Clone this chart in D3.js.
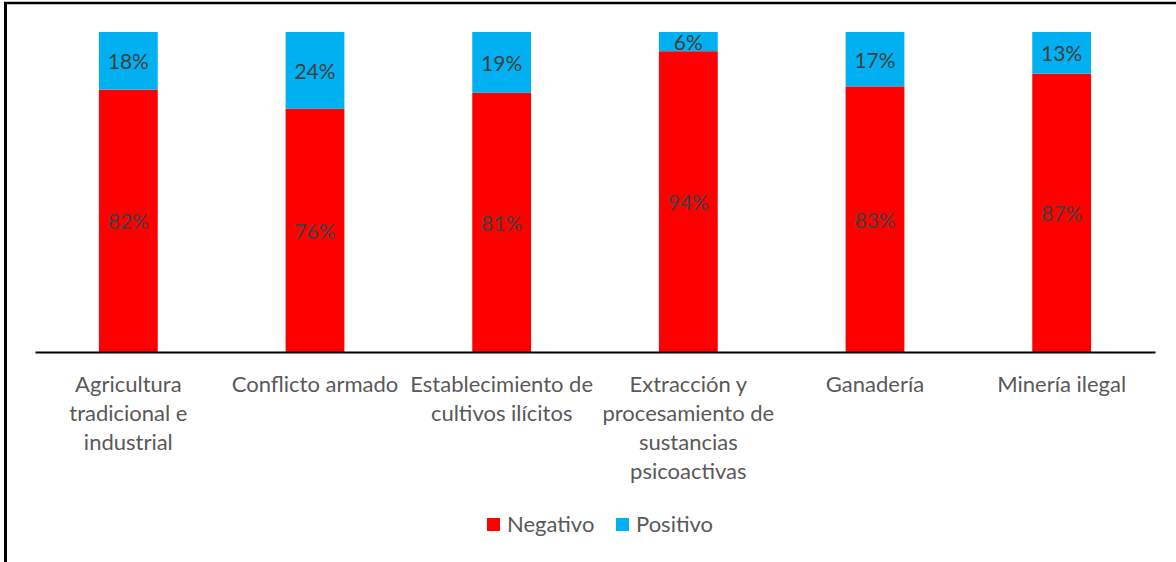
<!DOCTYPE html>
<html>
<head>
<meta charset="utf-8">
<script src="https://cdn.jsdelivr.net/npm/d3@7"></script>
<style>
    body { margin: 0; background: #fff; }
    text { font-family: Lato, "Open Sans", sans-serif; }
</style>
</head>
<body>
<script>
"use strict";

// Data
const categories = [
    "Agricultura\ntradicional e\nindustrial",
    "Conflicto armado",
    "Establecimiento de\ncultivos ilícitos",
    "Extracción y\nprocesamiento de\nsustancias\npsicoactivas",
    "Ganadería",
    "Minería ilegal"
]
const negativo = [82, 76, 81, 94, 83, 87]
const positivo = [18, 24, 19, 6, 17, 13]
const seriesNames = ["Negativo", "Positivo"]

const colors = { "Negativo": "#FF0000", "Positivo": "#00B0F0" }

// Dimensions
const measurements = {
    width: 1176,
    height: 562,
    left: 35,
    right: 1155,
    top: 32,
    bottom: 352,
    fontSize: "22px",
    valueSize: "21px"
}

const svgContainer = d3.select("body").append("svg")
    .attr("width", measurements.width)
    .attr("height", measurements.height)

// Outer frame (top and left edges visible)
svgContainer.append("line")
    .attr("x1", 4).attr("x2", measurements.width)
    .attr("y1", 3).attr("y2", 3)
    .attr("stroke", "#000").attr("stroke-width", 2.5)
svgContainer.append("line")
    .attr("x1", 5.5).attr("x2", 5.5)
    .attr("y1", 2).attr("y2", measurements.height)
    .attr("stroke", "#000").attr("stroke-width", 3)

// Stack the data
const rows = categories.map((c, i) => ({ cat: c, Negativo: negativo[i], Positivo: positivo[i] }))
const stacked = d3.stack().keys(seriesNames)(rows)

const scaleX = d3.scaleBand()
    .domain(categories)
    .range([measurements.left, measurements.right])
    .paddingInner(0.685)
    .paddingOuter(0.3425)

const scaleY = d3.scaleLinear()
    .domain([0, 100])
    .range([measurements.bottom, measurements.top])

// Bars
const layers = svgContainer.selectAll(".layer")
    .data(stacked)
    .enter()
    .append("g")
    .attr("class", "layer")
    .attr("fill", d => colors[d.key])

layers.selectAll("rect")
    .data(d => d)
    .enter()
    .append("rect")
    .attr("x", d => scaleX(d.data.cat))
    .attr("width", scaleX.bandwidth())
    .attr("y", d => scaleY(d[1]))
    .attr("height", d => scaleY(d[0]) - scaleY(d[1]))

// Value labels
layers.selectAll(".val")
    .data(d => d.map(v => ({ v: v, key: d.key })))
    .enter()
    .append("text")
    .attr("class", "val")
    .attr("x", d => scaleX(d.v.data.cat) + scaleX.bandwidth() / 2)
    .attr("y", d => (scaleY(d.v[0]) + scaleY(d.v[1])) / 2)
    .attr("dy", "0.4em")
    .attr("text-anchor", "middle")
    .attr("fill", "#404040")
    .style("font-size", measurements.valueSize)
    .text(d => d.v.data[d.key] + "%")

// X axis line
const xAxis = d3.axisBottom(scaleX).tickSize(0).tickFormat("")
svgContainer.append("g")
    .attr("transform", "translate(0," + measurements.bottom + ")")
    .call(xAxis)
    .call(g => g.select(".domain").attr("stroke", "#000").attr("stroke-width", 2))

// Category labels (multi-line)
const catLabels = svgContainer.selectAll(".cat")
    .data(categories)
    .enter()
    .append("text")
    .attr("class", "cat")
    .attr("text-anchor", "middle")
    .attr("fill", "#595959")
    .style("font-size", measurements.fontSize)
    .attr("transform", d => "translate(" + (scaleX(d) + scaleX.bandwidth() / 2) + ",392)")

catLabels.selectAll("tspan")
    .data(d => d.split("\n"))
    .enter()
    .append("tspan")
    .attr("x", 0)
    .attr("y", (d, i) => i * 29)
    .text(d => d)

// Legend
const legendX = { "Negativo": 487, "Positivo": 616 }
const legend = svgContainer.selectAll(".legend")
    .data(seriesNames)
    .enter()
    .append("g")
    .attr("class", "legend")
    .attr("transform", d => "translate(" + legendX[d] + ",518)")

legend.append("rect")
    .attr("width", 13)
    .attr("height", 13)
    .attr("fill", d => colors[d])

legend.append("text")
    .attr("x", 20)
    .attr("y", 6.5)
    .attr("dy", "0.36em")
    .attr("fill", "#595959")
    .style("font-size", measurements.fontSize)
    .text(d => d)
</script>
</body>
</html>
